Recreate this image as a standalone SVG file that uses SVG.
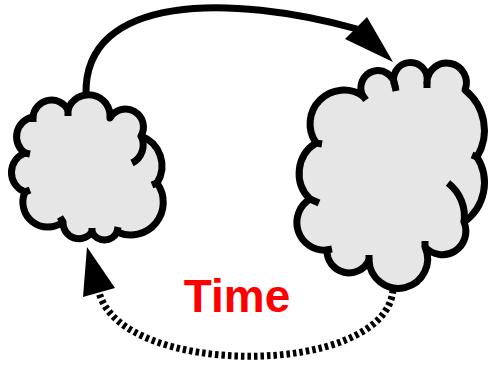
<svg xmlns="http://www.w3.org/2000/svg" width="493" height="366" viewBox="0 0 493 366">
<style>
.cloud{fill:#e6e6e6;stroke:#000;stroke-width:7;stroke-linejoin:round}
.tail{fill:none;stroke:#000;stroke-width:7;stroke-linecap:butt}
.edge{fill:none;stroke:#000;stroke-width:7}
.dash{fill:none;stroke:#000;stroke-width:7;stroke-dasharray:3.5 3}
.head{fill:#000;stroke:none}
.lbl{font-family:"Liberation Sans",Arial,sans-serif;font-weight:bold;font-size:46px;fill:#ff0000}
</style>
<rect width="493" height="366" fill="#fff"/>
<g id="connectors">
<path class="edge" d="M86,94 C84,-6 230,-6 357,29"/>
<polygon class="head" points="393,62 345,39 367,17"/>
<path class="dash" d="M393,290 C385,378 120,378 99,292"/>
<polygon class="head" points="87,247 83,297 115,288"/>
</g>
<g id="cloud-left">
<path class="cloud" d="M68,110 A21.5,21.5 0 0,1 110,118 A17.5,17.5 0 0,1 141,136 A31.8,31.8 0 0,1 157,183 A32.7,32.7 0 0,1 117,232 A13.8,13.8 0 0,1 92,232 A16,16 0 0,1 63,222 A25,25 0 0,1 25,192 A20.8,20.8 0 0,1 25,153 A20,20 0 0,1 33,117 A18.6,18.6 0 0,1 68,110 Z"/>
<path class="tail" d="M141,136 A20,20 0 0,1 132,163 M68,110 L68,116 M33,117 L33,122 M25,153 L30,154 M25,192 L30,190 M63,222 L60,217 M117,232 L118,227 M92,232 L92,228 M157,183 L152,185"/>
</g>
<g id="cloud-right">
<path class="cloud" d="M316,143 A33.8,33.8 0 0,1 363,96 A17.1,17.1 0 1,1 395,86 A16.8,16.8 0 1,1 427,82 A19.7,19.7 0 1,1 465,90 A51.6,51.6 0 0,1 477,157 A48,48 0 0,1 464,222 A23.5,23.5 0 0,1 425,247 A29.3,29.3 0 1,1 369,260 A22,22 0 0,1 327,250 A27.6,27.6 0 0,1 310,199 A35.7,35.7 0 0,1 316,143 Z"/>
<path class="tail" d="M448,183 A42,42 0 0,1 464,222 M316,143 L322,144 M363,96 L366,100 M395,86 L396,91 M427,82 L427,88 M477,157 L472,155 M425,247 L425,241 M369,260 L369,255 M327,250 L332,249 M310,199 L319,203"/>
</g>
<g id="label">
<text class="lbl" x="237" y="312" text-anchor="middle">Time</text>
</g>
</svg>
